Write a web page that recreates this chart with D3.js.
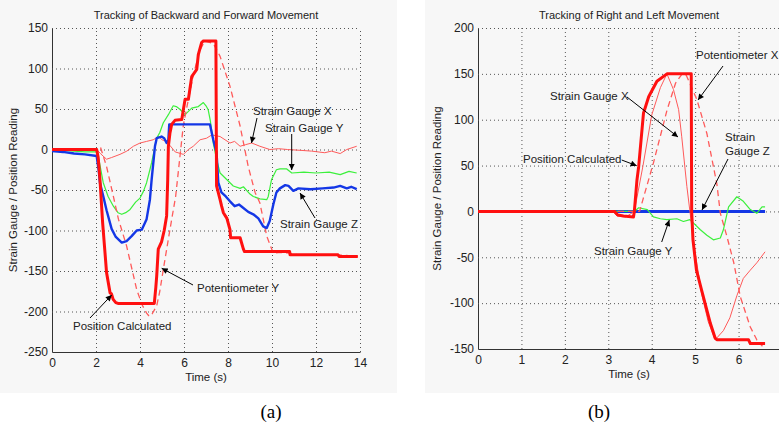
<!DOCTYPE html>
<html>
<head>
<meta charset="utf-8">
<script src="https://cdn.jsdelivr.net/npm/d3@7"></script>
<style>
body { margin: 0; background: #fff; }
svg text { font-family: Arial, "Liberation Sans", sans-serif; fill: #222; }
.axis .tick line { stroke: #555; stroke-dasharray: 1,3; }
.axis .domain { stroke: #333; }
</style>
</head>
<body>
<div id="fig"></div>
<script>
// ---- (a) backward / forward movement : [time (s), reading]
var backPosCalc = [[0,0],[2.03,0],[2.1,-10],[2.18,-37],[2.3,-90],[2.48,-152],[2.64,-177],[2.7,-178],[2.78,-185],[2.9,-189],[3.0,-190],
  [4.65,-190],[4.72,-170],[4.76,-156],[4.83,-123],[4.98,-114],[5.1,-100],[5.21,-82],[5.26,-37],[5.29,4],[5.36,20],[5.44,31],[5.59,36],
  [5.9,37],[5.97,49],[6.05,62],[6.2,62],[6.35,90],[6.58,99],[6.65,117],[6.8,132],[6.88,134],[7.45,134],[7.48,-45],[7.64,-62],[7.71,-70],
  [7.79,-78],[7.95,-85],[8.09,-99],[8.12,-109],[8.55,-109],[8.7,-123],[8.75,-126],[10.8,-126],[10.82,-130],[13.0,-130],[13.05,-132],[13.9,-132]];
var backPotY = [[0,0],[2.1,0],[2.2,3],[2.48,-21],[2.79,-58],[3.02,-86],[3.39,-119],[3.85,-173],[4.1,-192],[4.3,-202],[4.42,-206],[4.55,-203],
  [4.76,-193],[4.9,-175],[5.06,-148],[5.36,-99],[5.62,-58],[5.85,0],[5.97,30],[6.2,62],[6.45,95],[6.73,123],[6.95,134],[7.33,131],[7.64,115],
  [8.09,78],[8.55,29],[8.92,-21],[9.23,-53],[9.45,-66],[9.76,-107],[10.06,-128],[10.4,-127],[10.8,-128],[11.2,-130],[13.0,-130],[13.9,-132]];
var backSgX = [[0,0],[2.03,0],[2.2,-5],[2.48,-12],[2.7,-10],[3.09,-6],[3.4,-2],[3.7,4],[4.0,8],[4.3,10],[4.6,12],[4.85,16],[5.0,12],[5.2,10],
  [5.36,5],[5.6,-3],[5.97,-6],[6.2,0],[6.42,4],[6.73,12],[7.03,14],[7.26,18],[7.64,16],[8.09,8],[8.3,10],[8.55,4],[8.8,6],[9.08,8],[9.45,4],
  [9.9,0],[10.3,1],[10.7,0],[11.27,-1],[11.8,-2],[12.4,-4],[12.7,-2],[13.1,-5],[13.4,0],[13.85,4]];
var backSgY = [[0,0],[0.5,-1],[1.0,-2],[1.5,-3],[2.03,-3],[2.15,-15],[2.33,-41],[2.55,-58],[2.79,-70],[3.0,-78],[3.17,-80],[3.35,-78],[3.55,-74],
  [3.8,-65],[4.0,-60],[4.15,-52],[4.3,-41],[4.45,-25],[4.53,-16],[4.65,0],[4.76,14],[4.9,21],[5.06,33],[5.29,43],[5.51,54],[5.65,53],[5.8,50],
  [6.05,43],[6.2,47],[6.35,51],[6.65,53],[6.88,58],[7.0,54],[7.1,49],[7.2,35],[7.33,8],[7.48,-12],[7.64,-29],[7.94,-37],[8.24,-45],[8.55,-48],
  [8.7,-46],[9.0,-55],[9.15,-58],[9.45,-61],[9.76,-62],[9.83,-58],[9.98,-37],[10.2,-25],[10.36,-24],[10.67,-24],[10.9,-29],[11.45,-28],[12.0,-29],
  [12.6,-28],[13.1,-31],[13.5,-27],[13.85,-29]];
var backSgZ = [[0,-2],[0.5,-3],[1.0,-5],[1.5,-6],[2.03,-8],[2.12,-25],[2.18,-41],[2.35,-60],[2.48,-75],[2.71,-98],[2.9,-108],[3.17,-115],[3.39,-113],
  [3.62,-107],[3.85,-100],[4.08,-99],[4.3,-86],[4.45,-62],[4.53,-37],[4.68,4],[4.76,14],[4.98,16],[5.1,14],[5.21,8],[5.29,12],[5.33,31],[5.6,31],
  [7.18,31],[7.33,12],[7.48,-4],[7.56,-41],[7.7,-53],[7.9,-58],[8.09,-64],[8.3,-70],[8.5,-68],[8.6,-70],[8.92,-77],[9.15,-80],[9.38,-85],[9.6,-95],
  [9.76,-97],[9.9,-88],[10.06,-68],[10.2,-53],[10.36,-48],[10.6,-44],[10.75,-45],[10.97,-51],[11.2,-48],[11.75,-49],[12.3,-48],[12.8,-47],[13.1,-45],
  [13.4,-48],[13.6,-46],[13.85,-49]];

// ---- (b) right / left movement
var rlPosCalc = [[0,0],[3.15,0],[3.22,-4],[3.35,-5],[3.58,-6],[3.6,0],[3.66,34],[3.7,49],[3.81,107],[3.93,125],[4.12,142],[4.35,150],[4.91,150],
  [4.92,0],[4.95,-31],[5.03,-64],[5.15,-86],[5.35,-122],[5.46,-138],[5.5,-140],[6.23,-140],[6.27,-144],[6.61,-144]];
var rlPotX = [[0,0],[3.72,0],[4.04,53],[4.35,110],[4.55,140],[4.7,150],[4.8,148],[5.04,122],[5.27,85],[5.5,30],[5.58,-2],[5.73,-27],[5.89,-56],
  [6.04,-93],[6.27,-126],[6.42,-140],[6.55,-147]];
var rlSgX = [[0,0],[3.1,0],[3.2,-5],[3.4,-6],[3.6,0],[3.8,50],[4.0,105],[4.2,135],[4.35,150],[4.5,133],[4.62,111],[4.69,82],[4.81,27],[4.88,0],
  [5.0,-45],[5.15,-90],[5.3,-120],[5.46,-140],[5.65,-130],[5.8,-116],[5.96,-92],[6.11,-73],[6.27,-64],[6.42,-56],[6.61,-44]];
var rlSgY = [[0,0],[3.6,0],[3.7,4],[3.9,2],[4.04,-6],[4.2,-8],[4.35,-9],[4.58,-8],[4.73,-11],[4.88,-9],[4.97,-13],[5.12,-20],[5.27,-26],[5.42,-31],
  [5.58,-29],[5.65,-20],[5.77,5],[5.96,16],[6.11,11],[6.27,2],[6.42,-2],[6.54,5],[6.61,5]];
var rlSgZ = [[0,0],[6.61,0]];

// ticks (x = 7 of panel b lies past the picture edge)
var backXTicks = [0,2,4,6,8,10,12,14];
var backYTicks = [-250,-200,-150,-100,-50,0,50,100,150];
var rlXTicks = [0,1,2,3,4,5,6];
var rlYTicks = [-150,-100,-50,0,50,100,150,200];

var RED = "#ff1010", PINK = "#ff5a5a", GREEN = "#3cf03c", BLUE = "#1437e6";


/*
 * TrackingVis - one MATLAB style panel
 */
TrackingVis = function(_svg, _opts){
    this.svg = _svg;
    this.opts = _opts;
    this.initVis();
}

TrackingVis.prototype.initVis = function(){
    var vis = this, o = vis.opts;

    vis.g = vis.svg.append("g");

    // panel background
    vis.g.append("rect")
        .attr("x", o.panel[0]).attr("y", o.panel[1])
        .attr("width", o.panel[2]).attr("height", o.panel[3])
        .attr("fill", "#f7f7f7");

    vis.x = d3.scaleLinear().domain(o.xDomain).range([o.left, o.right]);
    vis.y = d3.scaleLinear().domain(o.yDomain).range([o.bottom, o.top]);

    vis.xAxis = d3.axisBottom(vis.x)
        .tickValues(o.xTicks)
        .tickSizeInner(-(o.bottom - o.top))
        .tickSizeOuter(0)
        .tickPadding(6)
        .tickFormat(function(d){ return String(d); });

    vis.yAxis = d3.axisLeft(vis.y)
        .tickValues(o.yTicks)
        .tickSizeInner(-(o.right - o.left))
        .tickSizeOuter(0)
        .tickPadding(4)
        .tickFormat(function(d){ return String(d); });

    vis.g.append("g")
        .attr("class", "x-axis axis")
        .attr("transform", "translate(0," + o.bottom + ")")
        .call(vis.xAxis);

    vis.g.append("g")
        .attr("class", "y-axis axis")
        .attr("transform", "translate(" + o.left + ",0)")
        .call(vis.yAxis);

    vis.g.selectAll(".axis").attr("font-family", null).attr("font-size", null);
    vis.g.selectAll(".axis text").style("font-size", "12px");
    // no dotted line on top of the solid axes
    vis.g.selectAll(".x-axis .tick").filter(function(d){ return d === o.xDomain[0]; }).select("line").remove();
    vis.g.selectAll(".y-axis .tick").filter(function(d){ return d === o.yDomain[0]; }).select("line").remove();

    // right grid line of panel b sits at x = 7, past the edge
    if (o.xTicks.indexOf(o.xDomain[1]) < 0) {
        vis.g.append("line")
            .attr("x1", vis.x(o.xDomain[1])).attr("x2", vis.x(o.xDomain[1]))
            .attr("y1", o.top).attr("y2", o.bottom)
            .attr("stroke", "#555").attr("stroke-dasharray", "1,3");
    }

    // titles
    vis.g.append("text")
        .attr("x", o.titleX).attr("y", 19)
        .attr("text-anchor", "middle")
        .style("font-size", "11px")
        .text(o.title);

    vis.g.append("text")
        .attr("x", o.titleX).attr("y", o.bottom + 29)
        .attr("text-anchor", "middle")
        .style("font-size", "11.5px")
        .text("Time (s)");

    vis.g.append("text")
        .attr("transform", "translate(" + o.yLabelX + "," + ((o.top + o.bottom) / 2) + ") rotate(-90)")
        .attr("text-anchor", "middle")
        .style("font-size", "11.5px")
        .text("Strain Gauge / Position Reading");

    vis.g.append("text")
        .attr("x", o.caption[0]).attr("y", o.caption[1])
        .attr("text-anchor", "middle")
        .style("font-family", "'Liberation Serif', 'Times New Roman', serif")
        .style("font-size", "19px")
        .style("fill", "#000")
        .text(o.captionText);

    vis.updateVis();
}

TrackingVis.prototype.updateVis = function(){
    var vis = this, o = vis.opts;

    var line = d3.line()
        .x(function(d){ return vis.x(d[0]); })
        .y(function(d){ return vis.y(d[1]); });

    vis.g.selectAll(".series")
        .data(o.series)
        .enter().append("path")
        .attr("class", "series")
        .attr("d", function(d){ return line(d.values); })
        .attr("fill", "none")
        .attr("stroke", function(d){ return d.color; })
        .attr("stroke-width", function(d){ return d.width; })
        .attr("stroke-dasharray", function(d){ return d.dash ? "6,4" : null; })
        .attr("stroke-linejoin", "round");

    // annotations
    var notes = vis.g.selectAll(".note")
        .data(o.notes)
        .enter().append("g")
        .attr("class", "note");

    notes.append("line")
        .attr("x1", function(d){ return d.arrow[0]; })
        .attr("y1", function(d){ return d.arrow[1]; })
        .attr("x2", function(d){ return d.arrow[2]; })
        .attr("y2", function(d){ return d.arrow[3]; })
        .attr("stroke", "#000")
        .attr("stroke-width", 1)
        .attr("marker-end", "url(#arr)");

    notes.each(function(d){
        var lines = d.text.split("\n");
        var t = d3.select(this).append("text")
            .attr("x", d.pos[0]).attr("y", d.pos[1])
            .style("font-size", "11.5px");
        lines.forEach(function(l, i){
            t.append("tspan").attr("x", d.pos[0]).attr("dy", i ? 14 : 0).text(l);
        });
    });
}


var svg = d3.select("#fig").append("svg")
    .attr("width", 779)
    .attr("height", 430);

svg.append("rect").attr("width", 779).attr("height", 430).attr("fill", "#fff");

svg.append("defs").append("marker")
    .attr("id", "arr")
    .attr("viewBox", "0 0 10 10")
    .attr("refX", 10).attr("refY", 5)
    .attr("markerWidth", 8).attr("markerHeight", 6)
    .attr("markerUnits", "userSpaceOnUse")
    .attr("orient", "auto")
    .append("path")
    .attr("d", "M0,0L10,5L0,10z")
    .attr("fill", "#000");

var backVis = new TrackingVis(svg, {
    panel: [0, 0, 397, 393],
    left: 52, right: 360, top: 28, bottom: 352,
    xDomain: [0, 14], yDomain: [-250, 150],
    xTicks: backXTicks, yTicks: backYTicks,
    title: "Tracking of Backward and Forward Movement", titleX: 206,
    yLabelX: 17,
    caption: [271, 418], captionText: "(a)",
    series: [
        { values: backSgX, color: PINK, width: 1 },
        { values: backSgY, color: GREEN, width: 1.2 },
        { values: backPotY, color: PINK, width: 1.3, dash: true },
        { values: backSgZ, color: BLUE, width: 2.4 },
        { values: backPosCalc, color: RED, width: 3 }
    ],
    notes: [
        { text: "Strain Gauge X", pos: [253, 115], arrow: [257, 118, 251.5, 143] },
        { text: "Strain Gauge Y", pos: [265, 132], arrow: [291.7, 134, 291.7, 170] },
        { text: "Strain Gauge Z", pos: [280, 228], arrow: [315, 218, 300, 193] },
        { text: "Potentiometer Y", pos: [197, 292], arrow: [193, 285, 161.7, 268.3] },
        { text: "Position Calculated", pos: [73, 330], arrow: [90, 318, 111.7, 295] }
    ]
});

var rlVis = new TrackingVis(svg, {
    panel: [425, 0, 354, 393],
    left: 478, right: 782, top: 28, bottom: 349,
    xDomain: [0, 7], yDomain: [-150, 200],
    xTicks: rlXTicks, yTicks: rlYTicks,
    title: "Tracking of Right and Left Movement", titleX: 629,
    yLabelX: 441,
    caption: [599, 418], captionText: "(b)",
    series: [
        { values: rlSgZ, color: BLUE, width: 3 },
        { values: rlSgY, color: GREEN, width: 1.2 },
        { values: rlSgX, color: PINK, width: 1 },
        { values: rlPotX, color: PINK, width: 1.3, dash: true },
        { values: rlPosCalc, color: RED, width: 3 }
    ],
    notes: [
        { text: "Potentiometer X", pos: [696, 59], arrow: [723, 66, 698, 100] },
        { text: "Strain Gauge X", pos: [550, 100], arrow: [627, 97, 678, 137] },
        { text: "Position Calculated", pos: [523, 163], arrow: [621.7, 160, 636.7, 165.7] },
        { text: "Strain\nGauge Z", pos: [725, 141], arrow: [728, 159, 702, 210] },
        { text: "Strain Gauge Y", pos: [594, 255], arrow: [661.7, 242, 669.3, 220] }
    ]
});
</script>
</body>
</html>
